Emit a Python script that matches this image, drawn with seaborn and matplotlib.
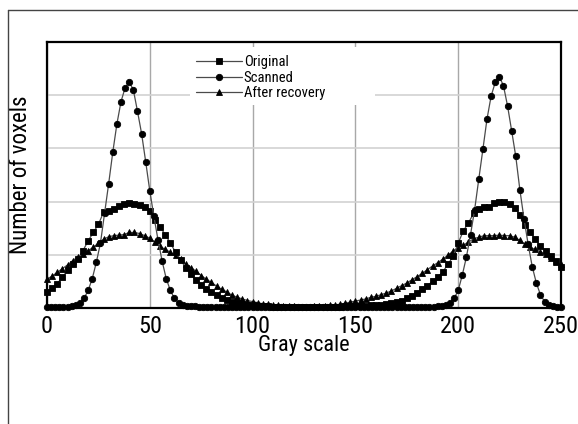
import numpy as np
import pandas as pd
import matplotlib
matplotlib.use("Agg")
import matplotlib.pyplot as plt
from matplotlib import font_manager as fm
from matplotlib.lines import Line2D
from matplotlib.patches import Rectangle
from matplotlib.ticker import MultipleLocator, NullFormatter
import seaborn as sns

# ---------------- data ----------------
gray_scanned = np.arange(0, 251, 2)          # circles every 2 gray levels
gray_other = np.arange(0, 250.1, 2.5)        # squares / triangles every 2.5

scanned = [
    0.01, 0.01, 0.01, 0.01, 0.01, 0.02, 0.03, 0.05, 0.09, 0.18,
    0.33, 0.55, 0.86, 1.22, 1.78, 2.34, 2.93, 3.46, 3.88, 4.14,
    4.25, 4.10, 3.70, 3.28, 2.75, 2.20, 1.72, 1.28, 0.88, 0.55,
    0.33, 0.18, 0.10, 0.06, 0.04, 0.03, 0.03, 0.02, 0.02, 0.02,
    0.02, 0.02, 0.02, 0.02, 0.02, 0.02, 0.02, 0.02, 0.02, 0.02,
    0.02, 0.02, 0.01, 0.01, 0.01, 0.01, 0.01, 0.01, 0.01, 0.01,
    0.01, 0.01, 0.01, 0.01, 0.01, 0.01, 0.01, 0.01, 0.01, 0.01,
    0.01, 0.01, 0.01, 0.01, 0.01, 0.01, 0.01, 0.01, 0.01, 0.01,
    0.01, 0.01, 0.02, 0.02, 0.02, 0.02, 0.02, 0.02, 0.02, 0.02,
    0.02, 0.02, 0.02, 0.02,
    0.02, 0.03, 0.04, 0.06, 0.10, 0.18, 0.33, 0.62, 0.96, 1.38,
    1.85, 2.42, 2.98, 3.55, 3.98, 4.24, 4.35, 4.18, 3.80, 3.33,
    2.85, 2.22, 1.68, 1.20, 0.78, 0.47, 0.25, 0.12, 0.06, 0.03,
    0.01, 0.01,
]

original = [
    0.30, 0.38, 0.46, 0.58, 0.71, 0.83, 0.92, 1.08, 1.26, 1.42,
    1.57, 1.80, 1.83, 1.86, 1.91, 1.95, 1.98, 1.96, 1.93, 1.90,
    1.82, 1.66, 1.52, 1.38, 1.22, 1.05, 0.90, 0.76, 0.63, 0.52,
    0.43, 0.36, 0.30, 0.24, 0.19, 0.15, 0.12, 0.09, 0.07, 0.06,
    0.05, 0.04, 0.03, 0.03, 0.02, 0.02, 0.02, 0.01, 0.01, 0.01,
    0.01, 0.01, 0.01, 0.01, 0.02, 0.02, 0.02, 0.02, 0.03, 0.03,
    0.03, 0.04, 0.04, 0.05, 0.05, 0.06, 0.07, 0.09, 0.11, 0.14,
    0.18, 0.23, 0.29, 0.35, 0.42, 0.50, 0.58, 0.68, 0.82, 0.97,
    1.22, 1.45, 1.60, 1.78, 1.86, 1.89, 1.90, 1.97, 2.00, 1.99,
    1.95, 1.88, 1.75, 1.56, 1.42, 1.30, 1.16, 1.07, 0.98, 0.88,
    0.77,
]

recovered = [
    0.54, 0.60, 0.67, 0.74, 0.81, 0.89, 0.96, 1.02, 1.08, 1.14,
    1.22, 1.29, 1.34, 1.36, 1.37, 1.38, 1.42, 1.42, 1.40, 1.36,
    1.31, 1.24, 1.16, 1.10, 1.05, 0.99, 0.92, 0.83, 0.76, 0.69,
    0.61, 0.54, 0.48, 0.41, 0.35, 0.30, 0.24, 0.20, 0.17, 0.14,
    0.12, 0.10, 0.08, 0.07, 0.06, 0.05, 0.04, 0.03, 0.03, 0.02,
    0.02, 0.02, 0.03, 0.03, 0.04, 0.05, 0.06, 0.07, 0.09, 0.11,
    0.13, 0.15, 0.17, 0.20, 0.22, 0.25, 0.28, 0.32, 0.37, 0.42,
    0.47, 0.53, 0.59, 0.65, 0.72, 0.79, 0.85, 0.92, 0.99, 1.07,
    1.13, 1.18, 1.24, 1.30, 1.33, 1.36, 1.36, 1.36, 1.37, 1.36,
    1.36, 1.33, 1.27, 1.20, 1.14, 1.10, 1.06, 1.01, 0.94, 0.87,
    0.82,
]

series_labels = ["Original", "Scanned", "After recovery"]
x_ticks = [0, 50, 100, 150, 200, 250]
x_label = "Gray scale"
y_label = "Number of voxels"

# ---------------- font: look for an installed narrow / condensed face ----------------
def find_narrow_font():
    best = None
    for f in fm.fontManager.ttflist:
        nm = f.name.lower()
        path = f.fname.lower().replace("-", "").replace("_", "").replace(" ", "")
        if f.style != "normal":
            continue
        if "bold" in path or "italic" in path or "oblique" in path or "light" in path \
                or "thin" in path or "medium" in path or "black" in path or "semi" in path:
            continue
        narrow = ("narrow" in nm or "condensed" in nm or "narrow" in path
                  or "condensed" in path or f.stretch in ("condensed",))
        if not narrow:
            continue
        if "extracondensed" in path or "ultracondensed" in path:
            score = 1
        elif "liberation" in path:
            score = 6
        elif "roboto" in path or "opensans" in path or "noto" in path:
            score = 5
        elif "dejavu" in path:
            score = 2
        else:
            score = 3
        if best is None or score > best[0]:
            best = (score, f.fname)
    return best[1] if best else None

sns.set_style("white")
narrow_path = find_narrow_font()
if narrow_path:
    fm.fontManager.addfont(narrow_path)
    fp_name = fm.FontProperties(fname=narrow_path).get_name()
    plt.rcParams["font.family"] = [fp_name, "DejaVu Sans"]
    stretch_entries = [f for f in fm.fontManager.ttflist if f.fname == narrow_path]
    if stretch_entries:
        plt.rcParams["font.stretch"] = stretch_entries[0].stretch
else:
    plt.rcParams["font.family"] = ["DejaVu Sans"]

fig = plt.figure(figsize=(5.78, 4.24), dpi=100)
ax = fig.add_axes([47 / 578, 1 - 308 / 424, 514 / 578, 266 / 424])

line_col = "#4a4a4a"
common = dict(color=line_col, linewidth=0.9, markerfacecolor="black",
              markeredgecolor="black", markeredgewidth=0.6, clip_on=False)

df_o = pd.DataFrame({"g": gray_other, "v": original})
df_s = pd.DataFrame({"g": gray_scanned, "v": scanned})
df_r = pd.DataFrame({"g": gray_other, "v": recovered})

sns.lineplot(data=df_o, x="g", y="v", ax=ax, marker="s", markersize=3.8,
             label=series_labels[0], zorder=4, **common)
sns.lineplot(data=df_s, x="g", y="v", ax=ax, marker="o", markersize=4.6,
             label=series_labels[1], zorder=5, **common)
sns.lineplot(data=df_r, x="g", y="v", ax=ax, marker="^", markersize=4.8,
             label=series_labels[2], zorder=3, **common)

ax.set_xlim(0, 250)
ax.set_ylim(0, 5)
ax.set_xticks(x_ticks)
ax.set_xticklabels([str(t) for t in x_ticks])
ax.xaxis.set_minor_locator(MultipleLocator(25))
ax.set_yticks([0, 1, 2, 3, 4, 5])
ax.yaxis.set_minor_locator(MultipleLocator(0.5))
ax.set_yticklabels([])
ax.yaxis.set_minor_formatter(NullFormatter())

ax.tick_params(axis="both", which="both", direction="in", color="black")
ax.tick_params(axis="both", which="major", length=5, width=1.2)
ax.tick_params(axis="both", which="minor", length=4, width=1.2)
ax.tick_params(axis="x", which="major", labelsize=17.5, pad=5, labelcolor="black")

ax.set_axisbelow(True)
ax.xaxis.grid(True, color="#a8a8a8", linewidth=1.0)
ax.yaxis.grid(True, color="#d2d2d2", linewidth=1.2)

for s in ax.spines.values():
    s.set_color("black")
    s.set_linewidth(1.6)

ax.set_xlabel(x_label, fontsize=16, labelpad=-2, color="black")
ax.set_ylabel(y_label, fontsize=16.5, labelpad=7, color="black")

# white area behind the legend (covers the grid like in the reference)
ax.add_patch(Rectangle(((190 - 47) / 514, (308 - 105) / 266), 185 / 514, 58 / 266,
                       transform=ax.transAxes, facecolor="white",
                       edgecolor="none", zorder=1))

leg = ax.legend(loc="upper center", bbox_to_anchor=(0.415, 0.99), frameon=False,
                fontsize=10.5, handlelength=3.2, handletextpad=0.1,
                labelspacing=0.12, borderpad=0.2)
for t in leg.get_texts():
    t.set_color("black")

# thin frame around the figure (left and top edges visible)
fig.add_artist(Line2D([8 / 578, 8 / 578], [0, 1 - 10 / 424], transform=fig.transFigure,
                      color="#444444", linewidth=1.0))
fig.add_artist(Line2D([8 / 578, 1], [1 - 10 / 424, 1 - 10 / 424], transform=fig.transFigure,
                      color="#444444", linewidth=1.0))

fig.savefig("out.png", dpi=100)
